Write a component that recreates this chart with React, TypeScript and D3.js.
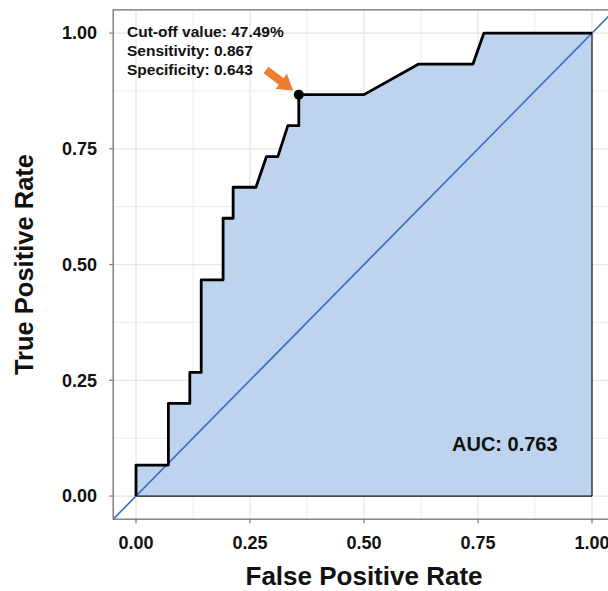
import React from "react";
import * as d3 from "d3";

const fpr = [0, 0, 0.071, 0.071, 0.118, 0.118, 0.143, 0.143, 0.191, 0.191, 0.213, 0.213, 0.263, 0.286, 0.311, 0.333, 0.357, 0.357, 0.5, 0.62, 0.739, 0.763, 1.0];
const tpr = [0, 0.067, 0.067, 0.2, 0.2, 0.267, 0.267, 0.467, 0.467, 0.6, 0.6, 0.667, 0.667, 0.733, 0.733, 0.8, 0.8, 0.867, 0.867, 0.933, 0.933, 1.0, 1.0];
const ticks = [0, 0.25, 0.5, 0.75, 1];
const minorTicks = [0.125, 0.375, 0.625, 0.875];
const tickLabels = ["0.00", "0.25", "0.50", "0.75", "1.00"];
const cutoff = { fpr: 0.357, tpr: 0.867 };
const annotationLines = ["Cut-off value: 47.49%", "Sensitivity: 0.867", "Specificity: 0.643"];
const aucLabel = "AUC: 0.763";

const W = 608;
const H = 591;
const FONT = "Liberation Sans, Arial, sans-serif";

export default function App() {
  const x = d3.scaleLinear().domain([-0.05, 1.05]).range([113.2, 614.8]);
  const y = d3.scaleLinear().domain([-0.05, 1.05]).range([519.2, 9.9]);
  const pts: [number, number][] = fpr.map((f, i) => [f, tpr[i]]);
  const line = d3.line<[number, number]>().x((d) => x(d[0])).y((d) => y(d[1]));
  const area = d3
    .area<[number, number]>()
    .x((d) => x(d[0]))
    .y0(y(0))
    .y1((d) => y(d[1]));
  const [x0, x1] = x.range();
  const [y0, y1] = y.range();
  const cx = x(cutoff.fpr);
  const cy = y(cutoff.tpr);
  // arrow pointing to the cut-off point from upper left
  const ang = Math.atan2(0.75, 1);
  const tipDist = 7;
  const len = 34;
  const headLen = 15;
  const headW = 9.5;
  const shaftW = 4;
  const tipX = cx - tipDist * Math.cos(ang);
  const tipY = cy - tipDist * Math.sin(ang);
  const ux = Math.cos(ang), uy = Math.sin(ang);
  const px = -uy, py = ux;
  const bx = tipX - headLen * ux, by = tipY - headLen * uy;
  const tx = tipX - len * ux, ty = tipY - len * uy;
  const arrowPts = [
    [tipX, tipY],
    [bx + headW * px, by + headW * py],
    [bx + shaftW * px, by + shaftW * py],
    [tx + shaftW * px, ty + shaftW * py],
    [tx - shaftW * px, ty - shaftW * py],
    [bx - shaftW * px, by - shaftW * py],
    [bx - headW * px, by - headW * py],
  ]
    .map((p) => p.join(","))
    .join(" ");

  return (
    <svg width={W} height={H} style={{ position: "absolute", left: 0, top: 0, background: "#fff" }} fontFamily={FONT}>
      <defs>
        <clipPath id="panel">
          <rect x={x0} y={y1} width={x1 - x0} height={y0 - y1} />
        </clipPath>
      </defs>
      {/* grid */}
      {minorTicks.map((t) => (
        <g key={"m" + t}>
          <line x1={x(t)} x2={x(t)} y1={y1} y2={y0} stroke="#ededed" strokeWidth={1} />
          <line x1={x0} x2={x1} y1={y(t)} y2={y(t)} stroke="#ededed" strokeWidth={1} />
        </g>
      ))}
      {ticks.map((t) => (
        <g key={"M" + t}>
          <line x1={x(t)} x2={x(t)} y1={y1} y2={y0} stroke="#e6e6e6" strokeWidth={1.3} />
          <line x1={x0} x2={x1} y1={y(t)} y2={y(t)} stroke="#e6e6e6" strokeWidth={1.3} />
        </g>
      ))}
      <g clipPath="url(#panel)">
        <path d={area(pts) || ""} fill="#bdd3ee" stroke="none" />
        <line x1={x(0)} x2={x(1)} y1={y(0)} y2={y(0)} stroke="#111" strokeWidth={1.2} />
        <line x1={x(1)} x2={x(1)} y1={y(0)} y2={y(1)} stroke="#111" strokeWidth={1.2} />
        <line x1={x(-0.05)} y1={y(-0.05)} x2={x(1.05)} y2={y(1.05)} stroke="#3a6cc6" strokeWidth={1.6} />
        <path d={line(pts) || ""} fill="none" stroke="#000" strokeWidth={2.8} strokeLinejoin="round" />
      </g>
      <circle cx={cx} cy={cy} r={5} fill="#000" />
      <polygon points={arrowPts} fill="#ed7d31" />
      {/* panel border */}
      <rect x={x0} y={y1} width={x1 - x0} height={y0 - y1} fill="none" stroke="#7a7a7a" strokeWidth={1.4} />
      {/* ticks */}
      {ticks.map((t, i) => (
        <g key={"t" + t}>
          <line x1={x(t)} x2={x(t)} y1={y0} y2={y0 + 4} stroke="#7a7a7a" strokeWidth={1.2} />
          <text x={x(t)} y={549} textAnchor="middle" fontSize={18} fontWeight="bold" fill="#111">
            {tickLabels[i]}
          </text>
          <line x1={x0 - 4} x2={x0} y1={y(t)} y2={y(t)} stroke="#7a7a7a" strokeWidth={1.2} />
          <text x={97} y={y(t)} dy="0.35em" textAnchor="end" fontSize={18} fontWeight="bold" fill="#111">
            {tickLabels[i]}
          </text>
        </g>
      ))}
      {annotationLines.map((s, i) => (
        <text key={s} x={127} y={36.5 + i * 19} fontSize={15.5} fontWeight="bold" fill="#111">
          {s}
        </text>
      ))}
      <text x={452} y={451} fontSize={20} fontWeight="bold" fill="#111">
        {aucLabel}
      </text>
      <text x={(x0 + x1) / 2} y={585} textAnchor="middle" fontSize={26} fontWeight="bold" fill="#111">
        False Positive Rate
      </text>
      <text
        transform={`translate(33, ${(y0 + y1) / 2}) rotate(-90)`}
        textAnchor="middle"
        fontSize={25.5}
        fontWeight="bold"
        fill="#111"
      >
        True Positive Rate
      </text>
    </svg>
  );
}
